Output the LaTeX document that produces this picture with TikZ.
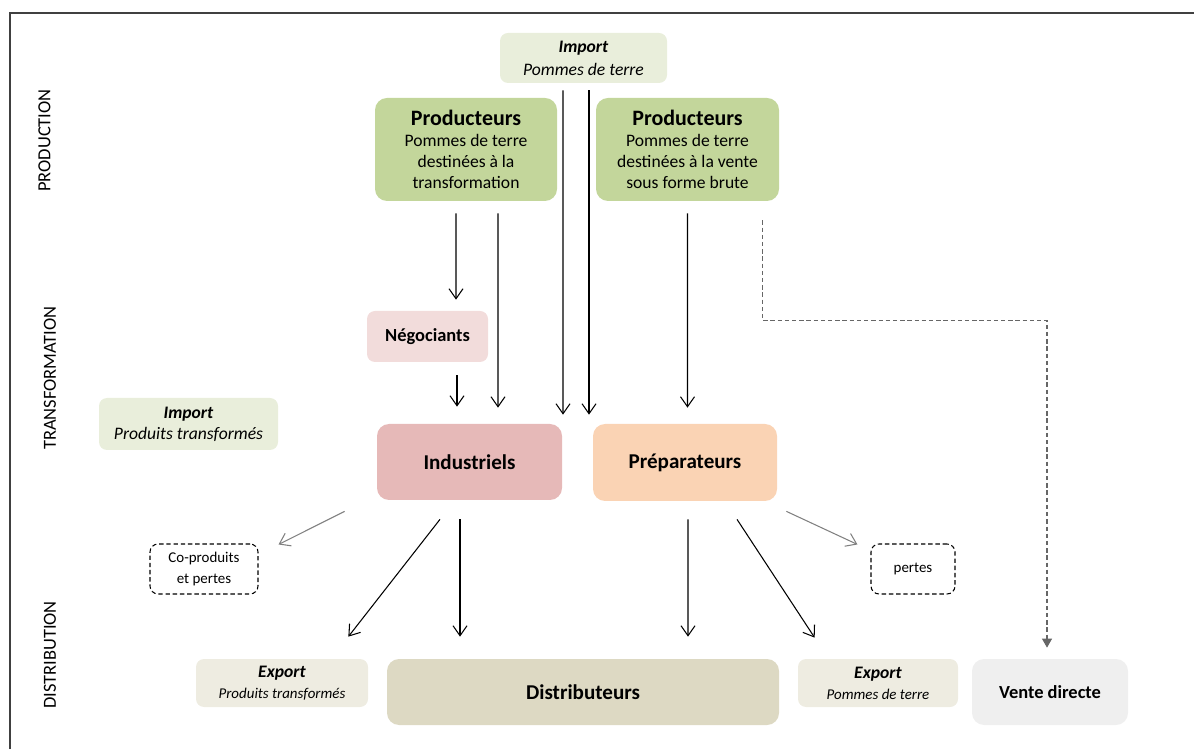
\documentclass[tikz,border=0pt]{standalone}
\usepackage{fontspec}
\setmainfont{Carlito}
\usetikzlibrary{positioning,arrows.meta}

\definecolor{prodgreen}{HTML}{C3D69B}
\definecolor{importgreen}{HTML}{E9EEDB}
\definecolor{negpink}{HTML}{F2DCDB}
\definecolor{indred}{HTML}{E6B9B8}
\definecolor{preporange}{HTML}{FAD3B4}
\definecolor{exportbeige}{HTML}{EEECE1}
\definecolor{distbeige}{HTML}{DDD9C3}
\definecolor{ventegray}{HTML}{EFEFEF}

\tikzset{block/.style={rounded corners=0.24cm,align=center,inner sep=2pt,font=\fontsize{10}{12}\selectfont}}
\tikzset{small/.style={block,rounded corners=0.16cm}}
\tikzset{lost/.style={small,draw,dashed,dash pattern=on 2.5pt off 1.6pt,line width=0.6pt,font=\fontsize{8.5}{12}\selectfont}}
\tikzset{stage/.style={rotate=90,font=\fontsize{10.5}{12}\selectfont}}
\tikzset{flow/.style={->,line width=0.6pt}}
\tikzset{>={Straight Barb[length=2mm,width=2.8mm]}}

\begin{document}
\begin{tikzpicture}
    \useasboundingbox (0,0) rectangle (23.88,14.98);
    \draw [line width=0.8pt,black!75] (0.2,0) -- (0.2,14.72) -- (23.88,14.72);

    % stages
    \node (PRO) [stage] at (0.89,12.17) {PRODUCTION};
    \node (TRA) [stage] at (1.0,7.42) {TRANSFORMATION};
    \node (DIS) [stage] at (1.0,1.88) {DISTRIBUTION};

    % production
    \node (ImpP) [small,fill=importgreen,minimum width=3.34cm,minimum height=1.0cm] at (11.67,13.82)
        {\textbf{\textit{Import}}\\[1pt]\textit{Pommes de terre}};
    \node (ProdT) [block,fill=prodgreen,minimum width=3.64cm,minimum height=2.06cm] at (9.32,11.99)
        {{\fontsize{12.5}{14}\selectfont\bfseries Producteurs}\\Pommes de terre\\destinées à la\\transformation};
    \node (ProdB) [block,fill=prodgreen,minimum width=3.66cm,minimum height=2.06cm] at (13.75,11.99)
        {{\fontsize{12.5}{14}\selectfont\bfseries Producteurs}\\Pommes de terre\\destinées à la vente\\sous forme brute};

    % transformation
    \node (Neg) [small,fill=negpink,minimum width=2.42cm,minimum height=1.02cm,font=\fontsize{10.5}{12}\selectfont\bfseries] at (8.55,8.25)
        {Négociants};
    \node (ImpT) [small,fill=importgreen,minimum width=3.58cm,minimum height=1.04cm] at (3.77,6.5)
        {\textbf{\textit{Import}}\\\textit{Produits transformés}};
    \node (Ind) [block,fill=indred,minimum width=3.7cm,minimum height=1.52cm,font=\fontsize{12}{14}\selectfont\bfseries] at (9.39,5.74)
        {Industriels};
    \node (Prep) [block,fill=preporange,minimum width=3.68cm,minimum height=1.54cm,font=\fontsize{12}{14}\selectfont\bfseries] at (13.7,5.73)
        {Préparateurs};
    \node (CoP) [lost,minimum width=2.16cm,minimum height=1.0cm] at (4.08,3.6) {Co-produits\\et pertes};
    \node (Per) [lost,minimum width=1.68cm,minimum height=1.0cm] at (18.26,3.6) {pertes};

    % distribution
    \node (ExpT) [small,fill=exportbeige,minimum width=3.44cm,minimum height=0.96cm] at (5.64,1.32)
        {\textbf{\textit{Export}}\\{\fontsize{8.5}{11}\selectfont\itshape Produits transformés}};
    \node (Dist) [block,fill=distbeige,minimum width=7.84cm,minimum height=1.32cm,font=\fontsize{12}{14}\selectfont\bfseries] at (11.66,1.14)
        {Distributeurs};
    \node (ExpP) [small,fill=exportbeige,minimum width=3.2cm,minimum height=0.96cm] at (17.56,1.32)
        {\textbf{\textit{Export}}\\{\fontsize{8.5}{11}\selectfont\itshape Pommes de terre}};
    \node (Vente) [block,fill=ventegray,minimum width=3.12cm,minimum height=1.32cm,font=\fontsize{10.5}{12}\selectfont\bfseries] at (21.0,1.14)
        {Vente directe};

    % flows down
    \draw [flow] ([xshift=-0.2cm,yshift=-0.24cm]ProdT.south) -- ([xshift=0.57cm,yshift=0.22cm]Neg.north);
    \draw [flow] ([xshift=0.64cm,yshift=-0.24cm]ProdT.south) -- ([xshift=0.57cm,yshift=0.32cm]Ind.north);
    \draw [flow] ([xshift=-0.41cm,yshift=-0.14cm]ImpP.south) -- ([xshift=1.87cm,yshift=0.18cm]Ind.north);
    \draw [flow] ([xshift=0.11cm,yshift=-0.14cm]ImpP.south) -- ([xshift=-1.92cm,yshift=0.18cm]Prep.north);
    \draw [flow] ([yshift=-0.24cm]ProdB.south) -- ([xshift=0.05cm,yshift=0.32cm]Prep.north);
    \draw [flow] ([xshift=0.59cm,yshift=-0.26cm]Neg.south) -- ([xshift=-0.25cm,yshift=0.34cm]Ind.north);

    \draw [flow,gray] ([shift={(-0.64,-0.22)}]Ind.south west) -- ([shift={(0.4,-0.02)}]CoP.north east);
    \draw [flow] ([shift={(-0.59,-0.38)}]Ind.south) -- ([shift={(-0.4,0.44)}]ExpT.north east);
    \draw [flow] ([shift={(-0.19,-0.38)}]Ind.south) -- ([shift={(-2.46,0.44)}]Dist.north);
    \draw [flow] ([shift={(0.06,-0.36)}]Prep.south) -- ([shift={(2.1,0.44)}]Dist.north);
    \draw [flow] ([shift={(1.04,-0.36)}]Prep.south) -- ([shift={(0.34,0.42)}]ExpP.north west);
    \draw [flow,gray] ([shift={(0.18,-0.2)}]Prep.south east) -- ([shift={(-0.26,-0.02)}]Per.north west);

    \draw [line width=0.6pt,black!60,dashed,dash pattern=on 2.5pt off 1.6pt,-{Triangle[length=1.8mm,width=2mm]}]
        ([shift={(-0.34,-0.38)}]ProdB.south east) -- ++(0,-2.0) -| ([xshift=-0.06cm,yshift=0.22cm]Vente.north);
\end{tikzpicture}
\end{document}
